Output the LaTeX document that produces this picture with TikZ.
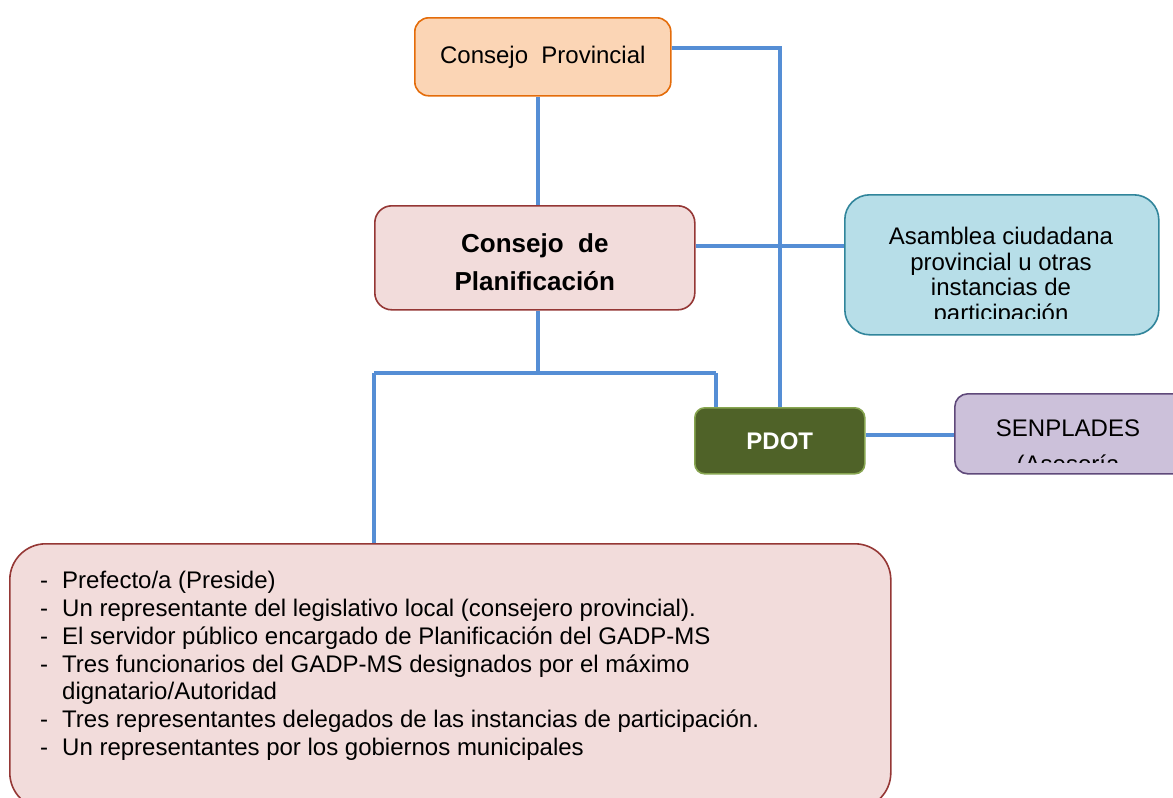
\documentclass[tikz,border=0pt]{standalone}
\usepackage{fontspec}
\setmainfont{Liberation Sans}
\definecolor{linkblue}{RGB}{85,142,213}
\definecolor{provfill}{RGB}{251,213,181}
\definecolor{provdraw}{RGB}{228,108,10}
\definecolor{pinkfill}{RGB}{242,220,219}
\definecolor{pinkdraw}{RGB}{149,55,53}
\definecolor{asamfill}{RGB}{183,222,232}
\definecolor{asamdraw}{RGB}{49,133,155}
\definecolor{senpfill}{RGB}{204,193,218}
\definecolor{senpdraw}{RGB}{95,73,122}
\definecolor{pdotfill}{RGB}{79,98,40}
\definecolor{pdotdraw}{RGB}{135,165,80}
\begin{document}
\begin{tikzpicture}[x=1pt,y=-1pt,
  box/.style={draw, line width=1.6pt, inner sep=0pt, anchor=north west, align=center},
  link/.style={draw=linkblue, line width=3.2pt},
  normaltext/.style={font=\fontsize{24}{25.5}\selectfont}]
\clip (0,0) rectangle (1173,798);
\fill[white] (0,0) rectangle (1173,798);
% coordinates for connector corners
\coordinate (pk) at (780,48);
\coordinate (pa) at (844,246);
\coordinate (tr) at (538,373);
\coordinate (tl) at (374,373);
\coordinate (tp) at (716,373);
\coordinate (ps) at (864,435);
% boxes
\node[box, normaltext, fill=provfill, draw=provdraw, rounded corners=14pt,
      minimum width=256pt, minimum height=78pt] (prov) at (414,17) {Consejo\ \ Provincial};
\node[box, fill=pinkfill, draw=pinkdraw, rounded corners=17pt,
      minimum width=320pt, minimum height=104pt] (plan) at (374,205) {};
\node[inner sep=0pt, align=center, font=\fontsize{26}{38}\selectfont\bfseries]
      (plantext) at ([yshift=-4pt]plan.center) {Consejo\ \ de\\Planificación};
\node[box, fill=asamfill, draw=asamdraw, rounded corners=25pt,
      minimum width=314pt, minimum height=140pt] (asam) at (844,194) {};
\node[box, fill=pdotfill, draw=pdotdraw, rounded corners=10pt,
      minimum width=170pt, minimum height=66pt, text=white,
      font=\fontsize{24}{25.5}\selectfont\bfseries] (pdot) at (694,407) {PDOT};
\node[box, fill=senpfill, draw=senpdraw, rounded corners=13pt,
      minimum width=240pt, minimum height=80pt] (senp) at (954,393) {};
\node[box, fill=pinkfill, draw=pinkdraw, rounded corners=36pt,
      minimum width=881pt, minimum height=265pt] (memb) at (9,543) {};
% connectors
\draw[link] (prov.south -| tr) -- (plan.north -| tr);
\draw[link] (prov.east |- pk) -- (pk) -- (pdot.north -| pk);
\draw[link] (plan.east |- pa) -- (asam.west |- pa);
\draw[link] (plan.south -| tr) -- (tr);
\draw[link] (tl) -- (tp);
\draw[link] (tl) -- (memb.north -| tl);
\draw[link] (tp) -- (pdot.north -| tp);
\draw[link] (pdot.east |- ps) -- (senp.west |- ps);
% clipped texts
\begin{scope}
  \clip (844,194) rectangle (1158,318);
  \node[normaltext, inner sep=0pt, align=center, anchor=north] (asamtext) at (1001,227)
    {Asamblea ciudadana\\provincial u otras\\instancias de\\participación};
\end{scope}
\begin{scope}
  \clip (954,393) rectangle (1173,462);
  \node[normaltext, inner sep=0pt, align=center, anchor=north] (senptext) at (1068,420)
    {SENPLADES\\[10.5pt](Asesoría};
\end{scope}
% member list
\node[inner sep=0pt, anchor=north west, align=left,
      font=\fontsize{24}{27.8}\selectfont] (membtext) at (40,571)
  {\makebox[22pt][l]{-}Prefecto/a (Preside)\\
   \makebox[22pt][l]{-}Un representante del legislativo local (consejero provincial).\\
   \makebox[22pt][l]{-}El servidor público encargado de Planificación del GADP-MS\\
   \makebox[22pt][l]{-}Tres funcionarios del GADP-MS designados por el máximo\\
   \makebox[22pt][l]{}dignatario/Autoridad\\
   \makebox[22pt][l]{-}Tres representantes delegados de las instancias de participación.\\
   \makebox[22pt][l]{-}Un representantes por los gobiernos municipales};
\end{tikzpicture}
\end{document}
